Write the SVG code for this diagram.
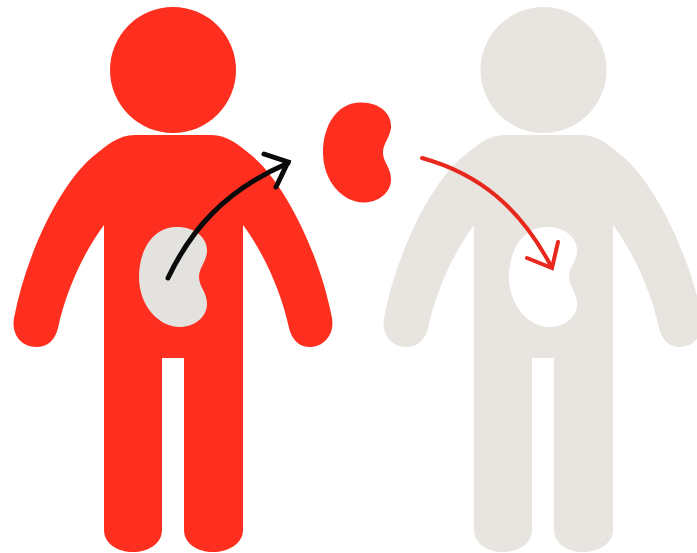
<svg xmlns="http://www.w3.org/2000/svg" xmlns:xlink="http://www.w3.org/1999/xlink" width="697" height="553" viewBox="0 0 697 553">
<style>
.red{fill:#FE2F1E}
.grey{fill:#E8E4DF}
.kgrey{fill:#E4E2DF}
.white{fill:#FFFFFF}
.arrow{fill:none;stroke-linecap:round;stroke-linejoin:miter}
</style>
<defs>
<path id="body" d="M135,135 H211 C228,135 240,146 250,154 C285,182 320,255 332,318 C335,335 323,347 310,347 C299,347 292,340 289,328 C281,290 262,250 243,225 V530 C243,544 228,552 213,552 C198,552 184,544 184,530 V358 H162 V530 C162,544 148,552 133,552 C118,552 104,544 104,530 V225 C85,250 66,290 58,328 C55,340 48,347 36,347 C22,347 11,335 14,318 C26,255 60,182 96,154 C106,146 118,135 135,135 Z"/>
<path id="kidney" d="M175,227 C195,226 208,238 207,252 C206,262 199,268 199,277 C199,287 207,292 207,304 C207,318 193,327 180,327 C158,327 139,305 139,277 C139,250 153,228 175,227 Z"/>
</defs>
<rect width="697" height="553" fill="#FFFFFF"/>
<g id="donor">
<circle class="red" cx="173" cy="70" r="63"/>
<use href="#body" class="red"/>
<use href="#kidney" class="kgrey"/>
</g>
<g id="recipient" transform="translate(370 0)">
<circle class="grey" cx="173.500" cy="70" r="63"/>
<use href="#body" class="grey"/>
<use href="#kidney" class="white"/>
</g>
<g id="transplant-kidney" transform="translate(184 -124.500)">
<use href="#kidney" class="red"/>
</g>
<g id="connectors">
<path class="arrow" stroke="#0A0A0A" stroke-width="5" d="M168,278 C190,232 222,192 288,163"/>
<path class="arrow" stroke="#0A0A0A" stroke-width="5" d="M264,154 L288,162 L276,187"/>
<path class="arrow" stroke="#E8281C" stroke-width="4" d="M422,158 C480,174 520,208 551,266"/>
<path class="arrow" stroke="#E8281C" stroke-width="4" d="M558,242 L552,268 L527,258"/>
</g>
</svg>
